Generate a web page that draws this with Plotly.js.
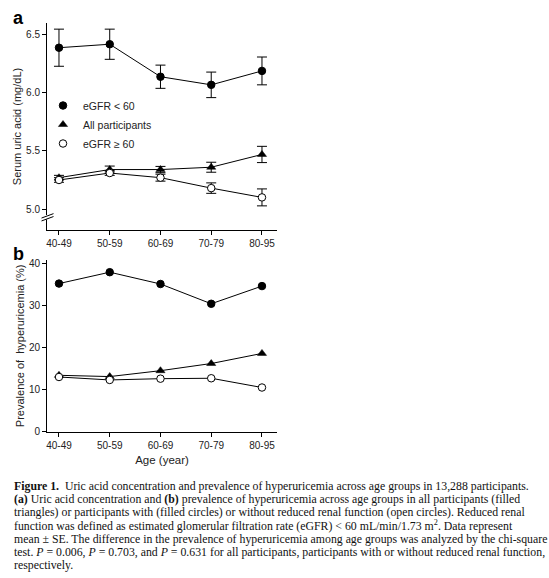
<!DOCTYPE html>
<html>
<head>
<meta charset="utf-8">
<script src="https://cdn.plot.ly/plotly-3.0.1.min.js"></script>
<style>
  html, body { margin: 0; padding: 0; background: #fff; }
  #fig { width: 549px; height: 578px; }
</style>
</head>
<body>
<div id="fig"></div>
<script>
// age groups on both panels
const age_groups = ['40-49', '50-59', '60-69', '70-79', '80-95'];

// panel a: serum uric acid (mg/dL), mean and SE
const ua_reduced = [6.39, 6.42, 6.14, 6.07, 6.19];
const ua_reduced_se = [0.16, 0.13, 0.10, 0.11, 0.12];
const ua_all = [5.27, 5.34, 5.34, 5.36, 5.47];
const ua_all_se = [0.02, 0.03, 0.027, 0.043, 0.07];
const ua_normal = [5.25, 5.31, 5.27, 5.18, 5.10];
const ua_normal_se = [0.02, 0.02, 0.03, 0.045, 0.073];

// panel b: prevalence of hyperuricemia (%)
const prev_reduced = [35.2, 37.9, 35.1, 30.4, 34.6];
const prev_all = [13.4, 13.1, 14.5, 16.2, 18.6];
const prev_normal = [13.0, 12.3, 12.6, 12.7, 10.5];

const series_names = ['eGFR < 60', 'All participants', 'eGFR \u2265 60'];

const caption_lines = [
  '<b>Figure 1.</b>  Uric acid concentration and prevalence of hyperuricemia across age groups in 13,288 participants.',
  '<b>(a)</b> Uric acid concentration and <b>(b)</b> prevalence of hyperuricemia across age groups in all participants (filled',
  'triangles) or participants with (filled circles) or without reduced renal function (open circles). Reduced renal',
  'function was defined as estimated glomerular filtration rate (eGFR) < 60 mL/min/1.73 m<sup>2</sup>. Data represent',
  'mean \u00b1 SE. The difference in the prevalence of hyperuricemia among age groups was analyzed by the chi-square',
  'test. <i>P</i> = 0.006, <i>P</i> = 0.703, and <i>P</i> = 0.631 for all participants, participants with or without reduced renal function,',
  'respectively.'
];

const W = 549, H = 578;
const px = v => v / W;
const py = v => 1 - v / H;

const sans = 'Liberation Sans, Arial, Helvetica, sans-serif';
const serif = 'Liberation Serif, Times New Roman, serif';

const marker_styles = [
  {symbol: 'circle', size: 7.5, color: '#000', line: {width: 1, color: '#000'}},
  {symbol: 'triangle-up', size: 8, color: '#000', line: {width: 0.5, color: '#000'}},
  {symbol: 'circle', size: 7.5, color: '#fff', line: {width: 1, color: '#000'}},
];

function line_trace(y, xa, ya) {
  return {
    type: 'scatter', mode: 'lines', x: age_groups, y: y,
    xaxis: xa, yaxis: ya, showlegend: false, hoverinfo: 'skip',
    line: {color: '#000', width: 1},
  };
}

function marker_trace(y, se, idx, xa, ya, legend) {
  let t = {
    type: 'scatter', mode: 'markers', x: age_groups, y: y,
    xaxis: xa, yaxis: ya, name: series_names[idx], showlegend: legend,
    marker: marker_styles[idx],
  };
  if (se) {
    t.error_y = {type: 'data', array: se, visible: true, color: '#000', thickness: 1, width: 5};
  }
  return t;
}

const traces = [
  line_trace(ua_reduced, 'x', 'y'),
  line_trace(ua_all, 'x', 'y'),
  line_trace(ua_normal, 'x', 'y'),
  line_trace(prev_reduced, 'x2', 'y2'),
  line_trace(prev_all, 'x2', 'y2'),
  line_trace(prev_normal, 'x2', 'y2'),
  marker_trace(ua_reduced, ua_reduced_se, 0, 'x', 'y', true),
  marker_trace(ua_all, ua_all_se, 1, 'x', 'y', true),
  marker_trace(ua_normal, ua_normal_se, 2, 'x', 'y', true),
  marker_trace(prev_reduced, null, 0, 'x2', 'y2', false),
  marker_trace(prev_all, null, 1, 'x2', 'y2', false),
  marker_trace(prev_normal, null, 2, 'x2', 'y2', false),
];

const tick_font = {family: sans, size: 10, color: '#222'};
const title_font = {family: sans, size: 11, color: '#222'};

const x_common = {
  type: 'category', range: [-0.236, 4.296], domain: [px(47), px(277)],
  showline: true, linecolor: '#000', linewidth: 1, ticks: 'outside', ticklen: 4,
  tickcolor: '#000', tickfont: tick_font, showgrid: false, zeroline: false, fixedrange: true,
};
const y_common = {
  showline: true, linecolor: '#000', linewidth: 1, ticks: 'outside', ticklen: 4,
  tickcolor: '#000', tickfont: tick_font, showgrid: false, zeroline: false, fixedrange: true,
};

let annotations = [
  {text: '<b>a</b>', xref: 'paper', yref: 'paper', x: px(11), y: py(18), xanchor: 'left', yanchor: 'middle',
   showarrow: false, font: {family: sans, size: 18, color: '#000'}},
  {text: '<b>b</b>', xref: 'paper', yref: 'paper', x: px(11), y: py(254), xanchor: 'left', yanchor: 'middle',
   showarrow: false, font: {family: sans, size: 18, color: '#000'}},
];
caption_lines.forEach((txt, i) => {
  annotations.push({
    text: txt, xref: 'paper', yref: 'paper', x: px(12), y: py(486 + 13.2 * i),
    xanchor: 'left', yanchor: 'middle', align: 'left', showarrow: false,
    font: {family: serif, size: 11.8, color: '#111'},
  });
});

// axis break on panel a y-axis
const shapes = [
  {type: 'rect', xref: 'paper', yref: 'y', x0: px(45), x1: px(49.5), y0: 4.91, y1: 4.948,
   fillcolor: '#fff', line: {width: 0}, layer: 'above'},
  {type: 'line', xref: 'paper', yref: 'y', x0: px(41.5), x1: px(53.5), y0: 4.922, y1: 4.96,
   line: {color: '#000', width: 1}, layer: 'above'},
  {type: 'line', xref: 'paper', yref: 'y', x0: px(41.5), x1: px(53.5), y0: 4.897, y1: 4.935,
   line: {color: '#000', width: 1}, layer: 'above'},
];

const layout = {
  width: W, height: H,
  margin: {l: 0, r: 0, t: 0, b: 0, pad: 0},
  paper_bgcolor: '#fff', plot_bgcolor: '#fff',
  showlegend: true,
  legend: {
    x: px(43), y: py(91), xanchor: 'left', yanchor: 'top',
    bgcolor: 'rgba(0,0,0,0)', borderwidth: 0,
    font: {family: sans, size: 10.5, color: '#222'},
    itemwidth: 30, traceorder: 'normal',
  },
  xaxis: {...x_common, anchor: 'y'},
  yaxis: {...y_common, anchor: 'x', domain: [py(230), py(23)], range: [4.819, 6.603],
    tickvals: [5, 5.5, 6, 6.5], tickformat: '.1f',
    title: {text: 'Serum uric acid (mg/dL)', font: title_font, standoff: 2}},
  xaxis2: {...x_common, anchor: 'y2',
    title: {text: 'Age (year)', font: {family: sans, size: 11.5, color: '#222'}, standoff: 6}},
  yaxis2: {...y_common, anchor: 'x2', domain: [py(431.7), py(260)], range: [0, 40.8],
    tickvals: [0, 10, 20, 30, 40],
    title: {text: 'Prevalence of  hyperuricemia (%)', font: title_font, standoff: 2}},
  annotations: annotations,
  shapes: shapes,
  hovermode: false,
};

Plotly.newPlot('fig', traces, layout, {displayModeBar: false, staticPlot: true});
</script>
</body>
</html>
